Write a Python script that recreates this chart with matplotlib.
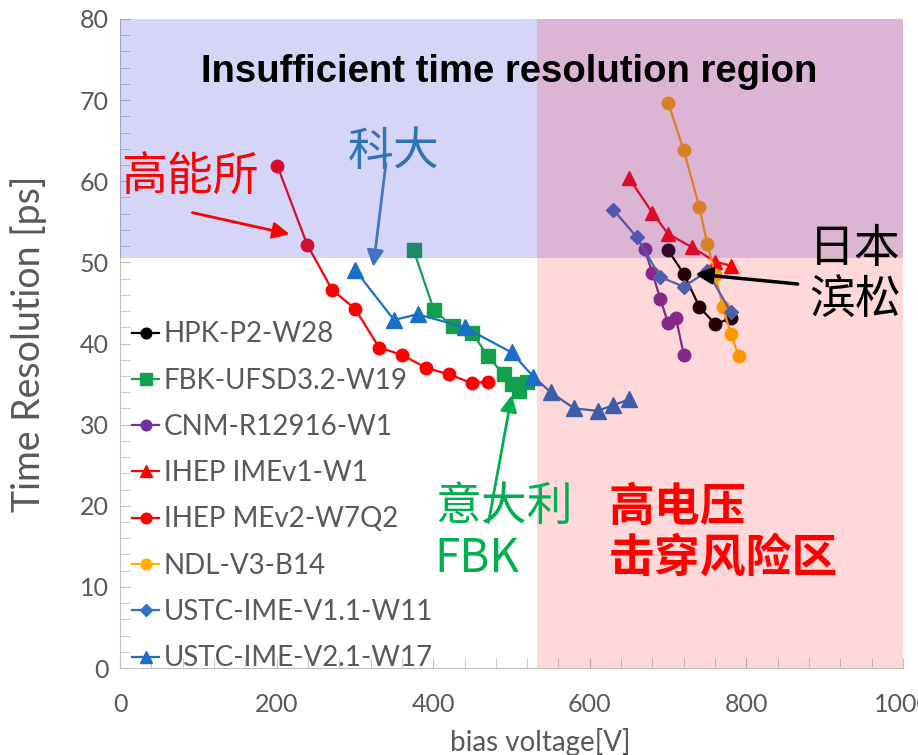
import matplotlib
matplotlib.use("Agg")
import matplotlib.pyplot as plt
from matplotlib.ticker import MultipleLocator

plt.rcParams['font.family'] = ['Lato', 'Noto Sans CJK SC', 'DejaVu Sans']

# data (bias voltage [V], time resolution [ps])
hpk_v = [700, 720, 740, 760, 780]
hpk_t = [51.5, 48.6, 44.5, 42.4, 43.1]

fbk_v = [375, 401, 425, 450, 470, 490, 500, 510, 520]
fbk_t = [51.5, 44.1, 42.1, 41.3, 38.4, 36.2, 35.0, 34.2, 35.3]

cnm_v = [670, 680, 690, 700, 710, 720]
cnm_t = [51.6, 48.7, 45.5, 42.5, 43.2, 38.6]

imev1_v = [650, 680, 700, 730, 760, 780]
imev1_t = [60.4, 56.1, 53.5, 51.9, 50.1, 49.6]

mev2_v = [201, 239, 271, 300, 331, 360, 391, 420, 450, 470]
mev2_t = [61.9, 52.2, 46.6, 44.3, 39.5, 38.6, 37.0, 36.2, 35.1, 35.3]

ndl_v = [700, 720, 740, 750, 760, 770, 780, 790]
ndl_t = [69.7, 63.8, 56.8, 52.3, 48.5, 44.5, 41.2, 38.5]

ustc11_v = [630, 660, 690, 720, 750, 780]
ustc11_t = [56.5, 53.1, 48.2, 47.0, 48.9, 43.9]

ustc21_v = [300, 350, 380, 440, 500, 528, 550, 580, 610, 630, 650]
ustc21_t = [49.1, 42.9, 43.6, 42.0, 38.9, 35.9, 34.0, 32.0, 31.7, 32.4, 33.1]

time_limit = 50.5
volt_limit = 533

fig = plt.figure(figsize=(9.18, 7.55), dpi=100)
ax = fig.add_axes([120 / 918, 1 - 668 / 755, 783 / 918, 649 / 755])

series = [
    ('HPK-P2-W28', hpk_v, hpk_t, '#000000', 'o', 9),
    ('FBK-UFSD3.2-W19', fbk_v, fbk_t, '#12a04c', 's', 9.5),
    ('CNM-R12916-W1', cnm_v, cnm_t, '#7030a0', 'o', 9),
    ('IHEP IMEv1-W1', imev1_v, imev1_t, '#ff0000', '^', 10.5),
    ('IHEP MEv2-W7Q2', mev2_v, mev2_t, '#ff0000', 'o', 9),
    ('NDL-V3-B14', ndl_v, ndl_t, '#ffb000', 'o', 9),
    ('USTC-IME-V1.1-W11', ustc11_v, ustc11_t, '#2f73c8', 'D', 7),
    ('USTC-IME-V2.1-W17', ustc21_v, ustc21_t, '#1a6fc8', '^', 11),
]
for name, v, t, c, m, ms in series:
    ax.plot(v, t, color=c, marker=m, markersize=ms, lw=1.6, label=name, zorder=2)

# shaded regions drawn over the data
ax.axhspan(time_limit, 80, color='#4040e0', alpha=0.22, lw=0, zorder=3)
ax.axvspan(volt_limit, 1000, color='#ff0000', alpha=0.15, lw=0, zorder=3)

ax.set_xlim(0, 1000)
ax.set_ylim(0, 80)
ax.xaxis.set_major_locator(MultipleLocator(200))
ax.xaxis.set_minor_locator(MultipleLocator(40))
ax.yaxis.set_major_locator(MultipleLocator(10))
ax.yaxis.set_minor_locator(MultipleLocator(2))
ax.tick_params(which='both', direction='in', colors='#bfbfbf', labelcolor='#595959')
ax.tick_params(axis='x', which='both', length=7, labelsize=18, pad=18)
ax.tick_params(axis='y', which='both', length=7, labelsize=18, pad=8)
for s in ['top', 'right']:
    ax.spines[s].set_visible(False)
ax.spines['left'].set_color('#bfbfbf')
ax.spines['bottom'].set_color('#bfbfbf')

ax.set_ylabel('Time Resolution [ps]', fontsize=27, color='#595959')
ax.yaxis.set_label_coords(-0.093, 0.5)
fig.text(540 / 918, 1 - 742 / 755, 'bias voltage[V]', fontsize=20, color='#595959',
         ha='center', va='center')

leg = ax.legend(loc='lower left', bbox_to_anchor=(-0.01, -0.035), frameon=False, fontsize=20,
                labelspacing=0.73, handlelength=1.0, handletextpad=0.15, borderaxespad=0.3,
                markerscale=0.85, labelcolor='#595959')
leg.set_zorder(6)

ax.text(497, 73.5, 'Insufficient time resolution region', fontsize=27.5, fontweight='bold',
        family=['Liberation Sans', 'DejaVu Sans'], ha='center', va='center', zorder=5)

cjk = ['Noto Sans CJK SC', 'DejaVu Sans']
ax.text(2, 60.5, '高能所', fontsize=33, color='#ff0000', family=cjk, va='center', zorder=5)
ax.text(291, 63.6, '科大', fontsize=33, color='#2e75b6', family=cjk, va='center', zorder=5)
ax.text(880, 48.5, '日本\n滨松', fontsize=33, color='black', family=cjk, va='center',
        linespacing=1.1, zorder=5)
ax.text(402, 16.7, '意大利\nFBK', fontsize=33, color='#00b050', family=cjk, va='center',
        linespacing=1.1, zorder=5)
ax.text(624, 16.5, '高电压\n击穿风险区', fontsize=33, color='#ff0000', family=cjk,
        fontweight='bold', va='center', linespacing=1.15, zorder=5)

arrow = dict(arrowstyle='-|>', mutation_scale=25)
ax.annotate('', xy=(220, 53.4), xytext=(89, 56.2),
            arrowprops=dict(arrow, color='#ff0000', lw=2), zorder=5)
ax.annotate('', xy=(323, 49.1), xytext=(340, 62.5),
            arrowprops=dict(arrow, color='#4472c4', lw=2), zorder=5)
ax.annotate('', xy=(731, 48.6), xytext=(869, 47.3),
            arrowprops=dict(arrow, color='black', lw=2.5), zorder=5)
ax.annotate('', xy=(501, 34.0), xytext=(470, 17.6),
            arrowprops=dict(arrow, color='#00b050', lw=2), zorder=5)

fig.savefig('out.png', dpi=100)
